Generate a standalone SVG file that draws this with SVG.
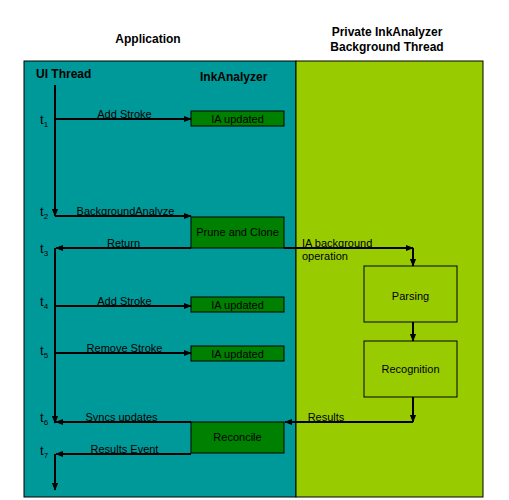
<svg xmlns="http://www.w3.org/2000/svg" width="509" height="500" viewBox="0 0 509 500">
<defs>
<marker id="ah" viewBox="0 0 10 10" refX="9" refY="5" markerWidth="4" markerHeight="4" orient="auto" markerUnits="strokeWidth"><path d="M0,1 L10,5 L0,9 z" fill="#000"/></marker>
</defs>
<style>
text{font-family:"Liberation Sans",Arial,sans-serif;fill:#000}
.t{font-size:12px;font-weight:bold}
.l{font-size:11px}
.s{font-size:8px}
.tv{font-size:13px}
.box{fill:#008000;stroke:#000;stroke-width:1}
.gbox{fill:#99cc00;stroke:#000;stroke-width:1}
.c{stroke:#000;stroke-width:2;fill:none}
.a{marker-end:url(#ah)}
</style>
<rect width="509" height="500" fill="#fff"/>
<g id="panels">
<rect x="24" y="61" width="272" height="436" fill="#009999" stroke="#000" stroke-width="1"/>
<rect x="296" y="61" width="187" height="436" fill="#99cc00" stroke="#000" stroke-width="1"/>
</g>
<g id="titles">
<text class="t" x="148" y="43" text-anchor="middle">Application</text>
<text class="t" x="387" y="36" text-anchor="middle">Private InkAnalyzer</text>
<text class="t" x="387" y="51" text-anchor="middle">Background Thread</text>
<text class="t" x="36" y="78">UI Thread</text>
<text class="t" x="200" y="81">InkAnalyzer</text>
</g>
<g id="times">
<text class="tv" x="40" y="124">t<tspan class="s" dy="3">1</tspan></text>
<text class="tv" x="40" y="216">t<tspan class="s" dy="3">2</tspan></text>
<text class="tv" x="40" y="253">t<tspan class="s" dy="3">3</tspan></text>
<text class="tv" x="40" y="306">t<tspan class="s" dy="3">4</tspan></text>
<text class="tv" x="40" y="355">t<tspan class="s" dy="3">5</tspan></text>
<text class="tv" x="40" y="422">t<tspan class="s" dy="3">6</tspan></text>
<text class="tv" x="40" y="455">t<tspan class="s" dy="3">7</tspan></text>
</g>
<g id="n1"><rect class="box" x="191" y="111" width="93" height="15"/><text class="l" x="237.5" y="123" text-anchor="middle">IA updated</text></g>
<g id="n2"><rect class="box" x="191" y="217" width="93" height="31"/><text class="l" x="237.5" y="236" text-anchor="middle">Prune and Clone</text></g>
<g id="n3"><rect class="box" x="191" y="297" width="93" height="15"/><text class="l" x="237.5" y="309" text-anchor="middle">IA updated</text></g>
<g id="n4"><rect class="box" x="191" y="346" width="93" height="15"/><text class="l" x="237.5" y="358" text-anchor="middle">IA updated</text></g>
<g id="n5"><rect class="box" x="191" y="422" width="93" height="31"/><text class="l" x="237.5" y="441" text-anchor="middle">Reconcile</text></g>
<g id="n6"><rect class="gbox" x="364" y="266" width="93" height="56"/><text class="l" x="410.5" y="300" text-anchor="middle">Parsing</text></g>
<g id="n7"><rect class="gbox" x="364" y="341" width="93" height="56"/><text class="l" x="410.5" y="373" text-anchor="middle">Recognition</text></g>
<g id="connectors">
<line class="c a" x1="55" y1="85" x2="55" y2="216"/>
<line class="c a" x1="55" y1="248" x2="55" y2="423"/>
<line class="c a" x1="55" y1="454" x2="55" y2="490"/>
<line class="c a" x1="55" y1="119" x2="191" y2="119"/>
<line class="c a" x1="55" y1="216" x2="191" y2="216"/>
<line class="c a" x1="191" y1="248" x2="56" y2="248"/>
<line class="c a" x1="284" y1="248" x2="413" y2="248"/>
<polyline class="c a" points="413,248 413,266"/>
<line class="c a" x1="413" y1="322" x2="413" y2="341"/>
<line class="c a" x1="55" y1="306" x2="191" y2="306"/>
<line class="c a" x1="55" y1="353" x2="191" y2="353"/>
<line class="c a" x1="413" y1="397" x2="413" y2="422"/>
<line class="c a" x1="413" y1="422" x2="285" y2="422"/>
<line class="c a" x1="191" y1="422" x2="56" y2="422"/>
<line class="c a" x1="191" y1="454" x2="56" y2="454"/>
<text class="l" x="124.5" y="118" text-anchor="middle">Add Stroke</text>
<text class="l" x="125.5" y="215" text-anchor="middle">BackgroundAnalyze</text>
<text class="l" x="123.5" y="247" text-anchor="middle">Return</text>
<text class="l" x="302" y="247">IA background</text>
<text class="l" x="302" y="260">operation</text>
<text class="l" x="124.5" y="305" text-anchor="middle">Add Stroke</text>
<text class="l" x="124.5" y="352" text-anchor="middle">Remove Stroke</text>
<text class="l" x="121.5" y="421" text-anchor="middle">Syncs updates</text>
<text class="l" x="326" y="421" text-anchor="middle">Results</text>
<text class="l" x="124.5" y="453" text-anchor="middle">Results Event</text>
</g>
</svg>
